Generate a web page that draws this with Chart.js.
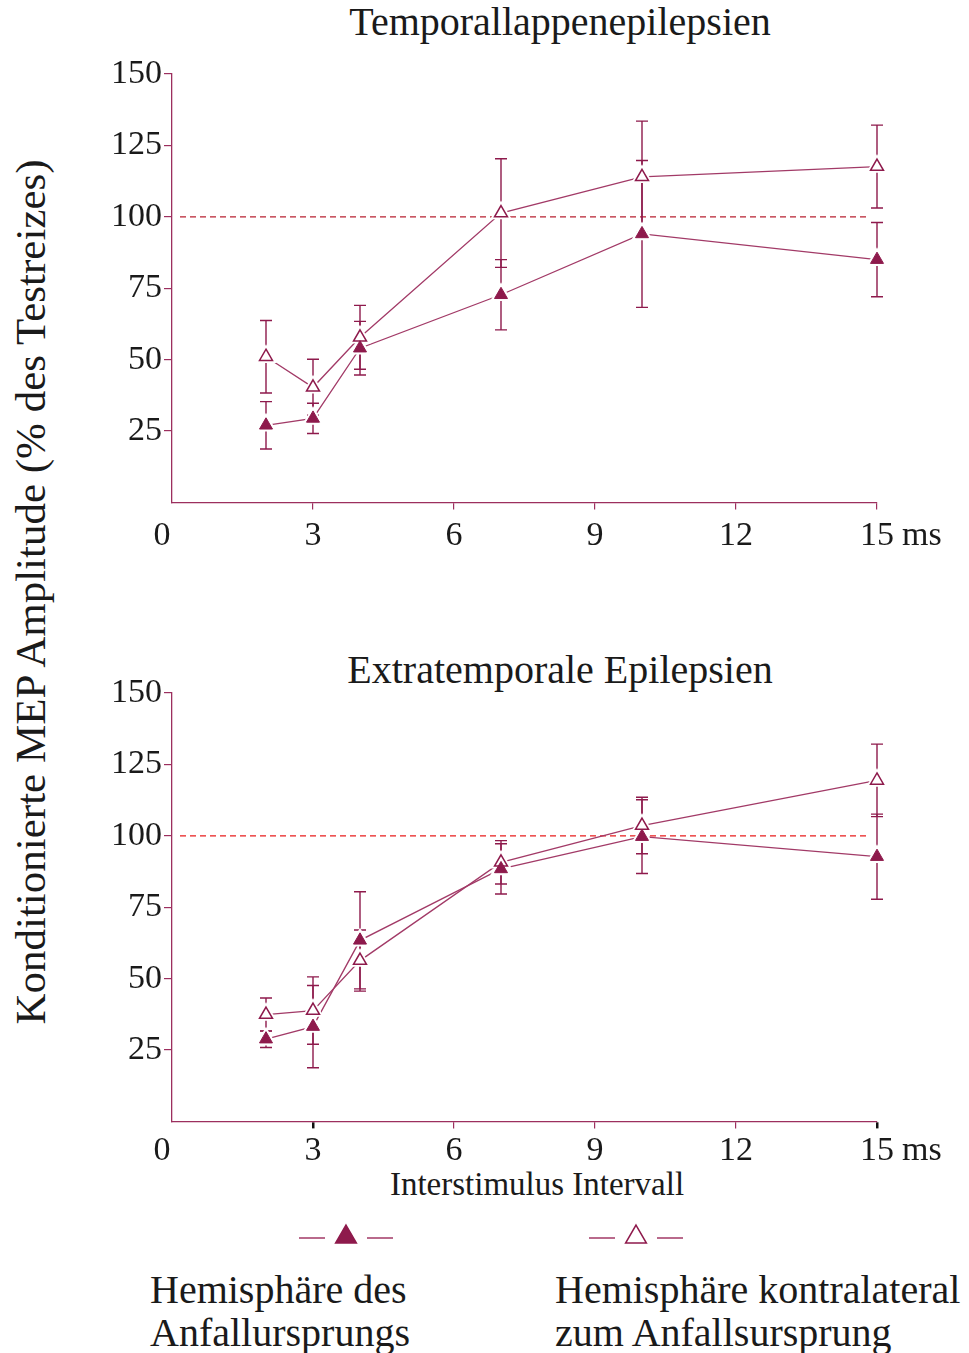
<!DOCTYPE html>
<html>
<head>
<meta charset="utf-8">
<script src="https://cdn.jsdelivr.net/npm/chart.js@4.4.0/dist/chart.umd.min.js"></script>
<style>
  body { margin: 0; background: #fff; width: 969px; height: 1353px; position: relative; overflow: hidden;
         font-family: "Liberation Serif", "Times New Roman", serif; color: #1a1a1a; }
  .txt { position: absolute; white-space: nowrap; line-height: 1; }
  canvas { position: absolute; left: 0; }
</style>
</head>
<body>
<div class="txt" id="ytitle" style="font-size:43px;left:30px;top:592px;transform:translate(-50%,-50%) rotate(-90deg);">Konditionierte MEP Amplitude (% des Testreizes)</div>
<div class="txt" style="font-size:40px;left:560px;top:2px;transform:translateX(-50%);">Temporallappenepilepsien</div>
<div class="txt" style="font-size:40px;left:560px;top:650px;transform:translateX(-50%);">Extratemporale Epilepsien</div>
<div class="txt" style="font-size:33px;left:537px;top:1168px;transform:translateX(-50%);">Interstimulus Intervall</div>
<div class="txt" style="font-size:40px;left:150px;top:1268px;line-height:43px;">Hemisphäre des<br>Anfallursprungs</div>
<div class="txt" style="font-size:40px;left:555px;top:1268px;line-height:43px;">Hemisphäre kontralateral<br>zum Anfallsursprung</div>

<canvas id="chartTop" width="969" height="520" style="top:50px"></canvas>
<canvas id="chartBottom" width="969" height="600" style="top:669px"></canvas>

<script>
// interstimulus intervals (ms) and axis ticks
const xValues = [2, 3, 4, 7, 10, 15];
const xTicks = [0, 3, 6, 9, 12, 15];
const yTicks = [25, 50, 75, 100, 125, 150];
const refLine = 100;

// Temporallappenepilepsien
const tleOrigin = [27, 29.4, 54, 72.7, 94, 85];
const tleOriginErr = [8.3, 5.3, 9.4, 12.3, 25.7, 13];
const tleContra = [51, 40.3, 57.8, 101.3, 114, 117.6];
const tleContraErr = [12.7, 9.8, 11.2, 19, 19.5, 14.5];

// Extratemporale Epilepsien
const etOrigin = [28.8, 33.2, 63.4, 88.4, 99.7, 92.7];
const etOriginErr = [2.9, 14.4, 17, 8.8, 12.9, 14.9];
const etContra = [37.4, 38.8, 56.3, 90.7, 103.6, 119.4];
const etContraErr = [5.8, 11.8, 10.7, 7.6, 9.9, 12.7];

const MAROON = '#8e1a4c';
const LINE = '#a23a67';
const AXIS = '#9c2f5e';
const SERIF = '"Liberation Serif", "Times New Roman", serif';

function pts(vals) {
  return xValues.map(function(x, i) { return { x: x, y: vals[i] }; });
}

function triangle(ctx, x, y, r) {
  ctx.beginPath();
  ctx.moveTo(x, y - r);
  ctx.lineTo(x + r * Math.sin(Math.PI * 2 / 3), y + r / 2);
  ctx.lineTo(x - r * Math.sin(Math.PI * 2 / 3), y + r / 2);
  ctx.closePath();
}

// error bars + dashed reference line, drawn under the lines and markers
const errorBars = {
  id: 'errorBars',
  beforeDatasetsDraw(chart, args, opts) {
    const ctx = chart.ctx, xs = chart.scales.x, ys = chart.scales.y;
    ctx.save();
    // 100 % reference
    const yr = ys.getPixelForValue(refLine);
    ctx.strokeStyle = opts.refColor;
    ctx.lineWidth = 1.2;
    ctx.setLineDash([6, 4]);
    ctx.beginPath();
    ctx.moveTo(chart.chartArea.left + 8, yr);
    ctx.lineTo(chart.chartArea.right - 9, yr);
    ctx.stroke();
    ctx.setLineDash([]);

    ctx.strokeStyle = MAROON;
    ctx.lineWidth = 1.4;
    chart.data.datasets.forEach(function(ds) {
      if (!ds.errors) return;
      ds.data.forEach(function(p, i) {
        const px = xs.getPixelForValue(p.x);
        const top = ys.getPixelForValue(p.y + ds.errors[i]);
        const bot = ys.getPixelForValue(p.y - ds.errors[i]);
        ctx.beginPath();
        ctx.moveTo(px, top); ctx.lineTo(px, bot);
        ctx.moveTo(px - 6, top); ctx.lineTo(px + 6, top);
        ctx.moveTo(px - 6, bot); ctx.lineTo(px + 6, bot);
        ctx.stroke();
      });
    });
    ctx.restore();
  },
  afterDraw(chart, args, opts) {
    const ctx = chart.ctx, xs = chart.scales.x;
    ctx.save();
    ctx.fillStyle = '#1a1a1a';
    ctx.font = '34px ' + SERIF;
    ctx.textAlign = 'center';
    ctx.textBaseline = 'middle';
    const ly = xs.top + opts.labelGap;
    xTicks.forEach(function(v) {
      let px = xs.getPixelForValue(v);
      if (v === 0) px -= 10;
      ctx.fillText(String(v), px, ly);
      if (v === xTicks[xTicks.length - 1]) {
        const w = ctx.measureText(String(v)).width;
        ctx.textAlign = 'left';
        ctx.fillText('ms', px + w / 2 + 8, ly);
        ctx.textAlign = 'center';
      }
    });

    if (opts.legend) {
      const ly2 = opts.legend.y;
      ctx.strokeStyle = LINE;
      ctx.lineWidth = 1.3;
      opts.legend.items.forEach(function(it) {
        ctx.beginPath();
        ctx.moveTo(it.x - 47, ly2); ctx.lineTo(it.x - 21, ly2);
        ctx.moveTo(it.x + 21, ly2); ctx.lineTo(it.x + 47, ly2);
        ctx.stroke();
        triangle(ctx, it.x, ly2 - 1, 12);
        ctx.lineWidth = 1.5;
        ctx.strokeStyle = MAROON;
        if (it.filled) { ctx.fillStyle = MAROON; ctx.fill(); }
        ctx.stroke();
        ctx.strokeStyle = LINE;
        ctx.lineWidth = 1.3;
      });
    }
    ctx.restore();
  }
};

function makeChart(id, origin, originErr, contra, contraErr, extra) {
  const lineSet = function(vals) {
    return { data: pts(vals), showLine: true, borderColor: LINE, borderWidth: 1.3,
             pointRadius: 0, order: 3, clip: false };
  };
  const haloSet = function(vals) {
    return { data: pts(vals), showLine: false, pointStyle: 'triangle', pointRadius: 12.5,
             pointBackgroundColor: '#fff', pointBorderWidth: 0, order: 2, clip: false };
  };
  return new Chart(document.getElementById(id), {
    type: 'scatter',
    data: {
      datasets: [
        lineSet(origin), lineSet(contra),
        haloSet(origin), haloSet(contra),
        { data: pts(origin), errors: originErr, showLine: false, pointStyle: 'triangle',
          pointRadius: 7.5, pointBackgroundColor: MAROON, pointBorderColor: MAROON,
          pointBorderWidth: 1, order: 1, clip: false },
        { data: pts(contra), errors: contraErr, showLine: false, pointStyle: 'triangle',
          pointRadius: 7.5, pointBackgroundColor: '#fff', pointBorderColor: MAROON,
          pointBorderWidth: 1.5, order: 1, clip: false }
      ]
    },
    options: {
      responsive: false,
      animation: false,
      devicePixelRatio: 1,
      events: [],
      layout: { padding: { top: 24, right: 92, left: 0, bottom: extra.bottomPad } },
      plugins: {
        legend: { display: false },
        tooltip: { enabled: false },
        errorBars: { refColor: extra.refColor, labelGap: extra.labelGap, legend: extra.legend }
      },
      scales: {
        x: {
          type: 'linear', min: 0, max: 15,
          afterBuildTicks: function(s) { s.ticks = xTicks.map(function(v) { return { value: v }; }); },
          afterFit: function(s) { s.height = 60; },
          ticks: { display: false },
          border: { color: AXIS, width: 1.3 },
          grid: {
            drawOnChartArea: false, tickLength: 7, lineWidth: extra.tickWidth,
            tickColor: function(c) {
              if (!c.tick || c.tick.value === 0) return 'rgba(0,0,0,0)';
              return extra.darkTicks.indexOf(c.tick.value) >= 0 ? '#111' : AXIS;
            }
          }
        },
        y: {
          min: 0, max: 150,
          afterBuildTicks: function(s) { s.ticks = yTicks.map(function(v) { return { value: v }; }); },
          afterFit: function(s) { s.width = 172; },
          border: { color: AXIS, width: 1.3 },
          grid: { drawOnChartArea: false, tickLength: 8, color: AXIS, lineWidth: 1.2 },
          ticks: { color: '#1a1a1a', padding: 2, font: { family: SERIF, size: 34 } }
        }
      }
    },
    plugins: [errorBars]
  });
}

makeChart('chartTop', tleOrigin, tleOriginErr, tleContra, tleContraErr, {
  bottomPad: 7.6, refColor: '#b82030', labelGap: 34, darkTicks: [], tickWidth: 1.2
});

makeChart('chartBottom', etOrigin, etOriginErr, etContra, etContraErr, {
  bottomPad: 87.6, refColor: '#e81c1c', labelGap: 30, darkTicks: [3, 15],
  tickWidth: function(c) { return c.tick && (c.tick.value === 3 || c.tick.value === 15) ? 2.5 : 1.2; },
  legend: { y: 569, items: [{ x: 346, filled: true }, { x: 636, filled: false }] }
});
</script>
</body>
</html>
